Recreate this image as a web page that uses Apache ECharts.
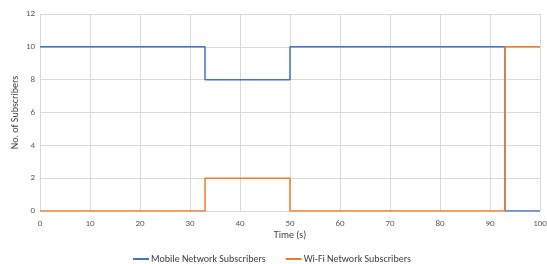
<!DOCTYPE html>
<html><head><meta charset="utf-8">
<script src="https://cdn.jsdelivr.net/npm/echarts@6/dist/echarts.min.js"></script>
<style>html,body{margin:0;padding:0;background:#fff}#c{width:547px;height:264px}</style>
</head><body><div id="c"></div>
<script>
const times = [0, 33, 50, 93, 100];
const mobile = [10, 8, 10, 0, 0];
const wifi = [0, 2, 0, 10, 10];
const seriesNames = ['Mobile Network Subscribers', 'Wi-Fi Network Subscribers'];
const xTitle = 'Time (s)';
const yTitle = 'No. of Subscribers';

const font = 'Carlito, Lato, "Liberation Sans", sans-serif';
const chart = echarts.init(document.getElementById('c'));
chart.setOption({
  animation: false,
  textStyle: {fontFamily: font},
  grid: {left: 40, right: 7, top: 14, bottom: 53, containLabel: false, outerBoundsMode: 'none'},
  legend: {
    top: 249, left: 128, itemWidth: 16, itemHeight: 2, itemGap: 20,
    icon: 'rect',
    textStyle: {fontSize: 10, color: '#404040', fontFamily: font, padding: [0, 0, 0, -3]},
    data: seriesNames
  },
  xAxis: {
    type: 'value', min: 0, max: 100, interval: 10,
    name: xTitle, nameLocation: 'middle', nameGap: 19, nameMoveOverlap: false,
    nameTextStyle: {fontSize: 10, color: '#404040'},
    axisLine: {show: false}, axisTick: {show: false},
    axisLabel: {fontSize: 9, color: '#595959', margin: 8},
    splitLine: {show: true, lineStyle: {color: '#d9d9d9', width: 1}}
  },
  yAxis: {
    type: 'value', min: 0, max: 12, interval: 2,
    name: yTitle, nameLocation: 'middle', nameGap: 20, nameMoveOverlap: false,
    nameTextStyle: {fontSize: 10, color: '#404040'},
    axisLine: {show: false}, axisTick: {show: false},
    axisLabel: {fontSize: 9, color: '#595959', margin: 5},
    splitLine: {show: true, lineStyle: {color: '#d9d9d9', width: 1}}
  },
  series: [
    {name: seriesNames[0], type: 'line', step: 'end', showSymbol: false,
     data: times.map((t, i) => [t, mobile[i]]),
     lineStyle: {color: '#4472C4', width: 1.5}, itemStyle: {color: '#4472C4'}},
    {name: seriesNames[1], type: 'line', step: 'end', showSymbol: false,
     data: times.map((t, i) => [t, wifi[i]]),
     lineStyle: {color: '#ED7D31', width: 1.5}, itemStyle: {color: '#ED7D31'}}
  ]
});
</script></body></html>
